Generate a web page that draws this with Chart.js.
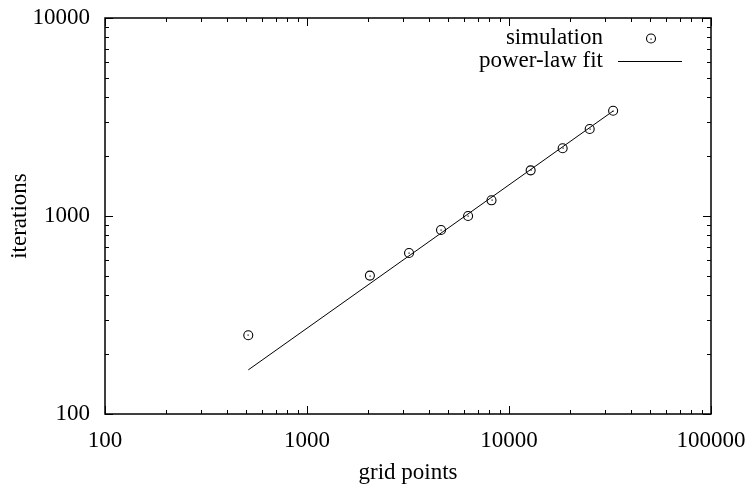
<!DOCTYPE html>
<html>
<head>
<meta charset="utf-8">
<script src="https://cdn.jsdelivr.net/npm/chart.js@4/dist/chart.umd.min.js"></script>
<style>
    html, body { margin: 0; padding: 0; background: #fff; }
    #wrap { width: 746px; height: 487px; }
</style>
</head>
<body>
<div id="wrap"><canvas id="fitChart" width="746" height="487"></canvas></div>
<script>
// Datos de la simulación
const gridPoints = [512, 2048, 3200, 4608, 6272, 8192, 12800, 18432, 25088, 32768];
const iterations = [250, 500, 650, 850, 1000, 1200, 1700, 2200, 2750, 3400];

// Ajuste de ley de potencias (extremos)
const fitX = [512, 32768];
const fitY = [167, 3390];

// Décadas de los ejes
const xDecades = [100, 1000, 10000, 100000];
const yDecades = [100, 1000, 10000];

const legendLabels = ['simulation', 'power-law fit'];
const fontFamily = '"Liberation Serif", "DejaVu Serif", serif';

function isDecade(v) {
    const l = Math.log10(v);
    return Math.abs(l - Math.round(l)) < 1e-9;
}

// Sin relleno extra de las etiquetas: el área la fija layout.padding
function fixPadding(s) {
    s.paddingTop = 0;
    s.paddingBottom = 0;
    s.paddingLeft = 0;
    s.paddingRight = 0;
}

// Marcador: círculo con punto central
function drawMarker(ctx, x, y) {
    ctx.beginPath();
    ctx.arc(x, y, 4.5, 0, Math.PI * 2);
    ctx.stroke();
    ctx.fillRect(Math.round(x) - 0.5, Math.round(y) - 0.5, 1.2, 1.2);
}

// Marco, marcas hacia dentro, puntos y leyenda
const framePlugin = {
    id: 'frame',
    afterDraw(chart) {
        const ctx = chart.ctx;
        const a = chart.chartArea;
        const xs = chart.scales.x;
        const ys = chart.scales.y;
        ctx.save();
        ctx.strokeStyle = '#000';
        ctx.fillStyle = '#000';
        ctx.lineWidth = 1;
        ctx.beginPath();
        for (let d = 0; d < xDecades.length; d++) {
            const base = xDecades[d];
            for (let m = 1; m <= 9; m++) {
                if (d === xDecades.length - 1 && m > 1) break;
                const px = Math.round(xs.getPixelForValue(base * m)) + 0.5;
                const len = m === 1 ? 8 : 4;
                ctx.moveTo(px, a.bottom); ctx.lineTo(px, a.bottom - len);
                ctx.moveTo(px, a.top); ctx.lineTo(px, a.top + len);
            }
        }
        for (let d = 0; d < yDecades.length; d++) {
            const base = yDecades[d];
            for (let m = 1; m <= 9; m++) {
                if (d === yDecades.length - 1 && m > 1) break;
                const py = Math.round(ys.getPixelForValue(base * m)) + 0.5;
                const len = m === 1 ? 8 : 4;
                ctx.moveTo(a.left, py); ctx.lineTo(a.left + len, py);
                ctx.moveTo(a.right, py); ctx.lineTo(a.right - len, py);
            }
        }
        ctx.stroke();

        ctx.lineWidth = 1.5;
        ctx.strokeRect(a.left, a.top, a.right - a.left, a.bottom - a.top);

        // Puntos de la simulación
        ctx.lineWidth = 1.1;
        chart.getDatasetMeta(0).data.forEach(p => drawMarker(ctx, p.x, p.y));

        // Leyenda
        ctx.font = '23px ' + fontFamily;
        ctx.textAlign = 'right';
        ctx.textBaseline = 'middle';
        ctx.fillText(legendLabels[0], 603, 38);
        ctx.fillText(legendLabels[1], 603, 61);
        drawMarker(ctx, 651, 38.5);
        ctx.lineWidth = 1;
        ctx.beginPath();
        ctx.moveTo(618, 61.5);
        ctx.lineTo(682, 61.5);
        ctx.stroke();
        ctx.restore();
    }
};

const ctx = document.getElementById('fitChart');
const fitChart = new Chart(ctx, {
    type: 'scatter',
    data: {
        datasets: [
            {
                label: legendLabels[0],
                data: gridPoints.map((x, i) => ({ x: x, y: iterations[i] })),
                pointRadius: 0,
                showLine: false
            },
            {
                label: legendLabels[1],
                data: fitX.map((x, i) => ({ x: x, y: fitY[i] })),
                showLine: true,
                borderColor: '#000',
                borderWidth: 1,
                pointRadius: 0,
                tension: 0
            }
        ]
    },
    options: {
        responsive: false,
        animation: false,
        layout: { padding: { left: 0, right: 35, top: 18, bottom: 0 } },
        plugins: {
            legend: { display: false },
            tooltip: { enabled: false }
        },
        scales: {
            x: {
                type: 'logarithmic',
                min: 100,
                max: 100000,
                afterFit: s => { s.height = 73; fixPadding(s); },
                grid: { display: false, drawTicks: false },
                border: { display: false },
                ticks: {
                    autoSkip: false,
                    maxRotation: 0,
                    padding: 13,
                    color: '#000',
                    font: { family: fontFamily, size: 23 },
                    callback: v => isDecade(v) ? String(v) : ''
                },
                title: {
                    display: true,
                    text: 'grid points',
                    color: '#000',
                    padding: { top: 0, bottom: 0 },
                    font: { family: fontFamily, size: 23 }
                }
            },
            y: {
                type: 'logarithmic',
                min: 100,
                max: 10000,
                afterFit: s => { s.width = 105; fixPadding(s); },
                grid: { display: false, drawTicks: false },
                border: { display: false },
                ticks: {
                    autoSkip: false,
                    padding: 15,
                    color: '#000',
                    font: { family: fontFamily, size: 23 },
                    callback: v => isDecade(v) ? String(v) : ''
                },
                title: {
                    display: true,
                    text: 'iterations',
                    color: '#000',
                    padding: { top: 6, bottom: 0 },
                    font: { family: fontFamily, size: 23 }
                }
            }
        }
    },
    plugins: [framePlugin]
});
</script>
</body>
</html>
